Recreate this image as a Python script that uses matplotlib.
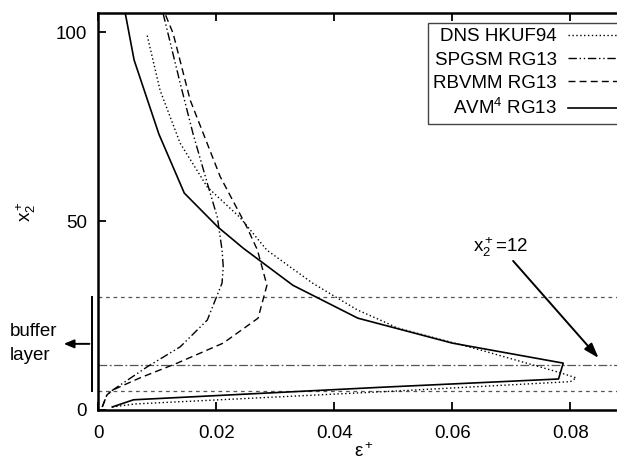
import matplotlib.pyplot as plt

plt.rcParams['font.family'] = ['Liberation Sans', 'DejaVu Sans']
plt.rcParams['mathtext.fontset'] = 'custom'
plt.rcParams['mathtext.rm'] = 'Liberation Sans'
plt.rcParams['mathtext.it'] = 'Liberation Sans'

# DNS HKUF94 (dotted)
dns_x = [0.0024, 0.0063, 0.0478, 0.080, 0.081, 0.078, 0.0647, 0.0507, 0.0478,
         0.0439, 0.0364, 0.0286, 0.024, 0.0185, 0.0139, 0.0105, 0.0083]
dns_y = [0.8, 1.6, 4.8, 7.5, 8.5, 10.0, 15.9, 21.7, 23.8,
         26.5, 33.5, 42.3, 51.0, 59.0, 70.6, 84.6, 99.2]

# SPGSM RG13 (dash-dot-dot)
spg_x = [0.0007, 0.0015, 0.0025, 0.0083, 0.0139, 0.0185, 0.021, 0.0212, 0.021,
         0.0202, 0.0185, 0.0161, 0.0139, 0.011]
spg_y = [0.8, 4.0, 5.3, 11.4, 16.7, 23.8, 33.6, 38.0, 42.3,
         51.0, 60.0, 73.0, 86.5, 105.0]

# RBVMM RG13 (dashed)
rbv_x = [0.0007, 0.0015, 0.0025, 0.0071, 0.0134, 0.0212, 0.0271, 0.0286, 0.027,
         0.0252, 0.0207, 0.0156, 0.0127, 0.0113]
rbv_y = [0.8, 4.0, 5.3, 8.5, 12.4, 17.7, 24.3, 33.0, 42.3,
         48.4, 61.7, 82.0, 99.7, 105.0]

# AVM4 RG13 (solid)
avm_x = [0.0024, 0.006, 0.0478, 0.078, 0.0788, 0.06, 0.044, 0.033,
         0.0246, 0.0203, 0.0146, 0.0103, 0.0061, 0.0046]
avm_y = [0.8, 2.7, 6.0, 8.2, 12.4, 17.7, 24.3, 33.0,
         42.8, 48.4, 57.4, 73.0, 92.6, 105.0]

x_ticks = [0, 0.02, 0.04, 0.06, 0.08]
x_labels = ['0', '0.02', '0.04', '0.06', '0.08']
y_ticks = [0, 50, 100]

fig = plt.figure(figsize=(6.17, 4.63), dpi=100)
ax = fig.add_axes([0.159, 0.1145, 0.861, 0.857])

ax.axhline(30, color='#555555', lw=0.9, ls=(0, (3, 3)))
ax.axhline(5, color='#555555', lw=0.9, ls=(0, (3, 3)))
ax.axhline(12, color='#555555', lw=0.9, ls=(0, (7, 2, 1.5, 2)))

ax.plot(dns_x, dns_y, color='k', lw=1.0, ls=(0, (1, 1.8)), label='DNS HKUF94')
ax.plot(spg_x, spg_y, color='k', lw=1.0, ls=(0, (6, 2, 1, 2, 1, 2)), label='SPGSM RG13')
ax.plot(rbv_x, rbv_y, color='k', lw=1.0, ls=(0, (5, 3)), label='RBVMM RG13')
ax.plot(avm_x, avm_y, color='k', lw=1.2, label='AVM$^4$ RG13')

ax.set_xlim(0, 0.09)
ax.set_ylim(0, 105)
ax.set_xticks(x_ticks)
ax.set_xticklabels(x_labels)
ax.set_yticks(y_ticks)
ax.tick_params(direction='in', length=6, width=1.3, labelsize=13.5, top=True)
ax.tick_params(axis='x', pad=11)
ax.tick_params(axis='y', pad=8)
for s in ax.spines.values():
    s.set_linewidth(1.8)

ax.set_xlabel('ε$^+$', fontsize=13.5, labelpad=0)
ax.set_ylabel(r'x$_2^+$', fontsize=13.5, labelpad=13)

leg = ax.legend(loc='upper right', bbox_to_anchor=(1.012, 1.0), markerfirst=False,
                fontsize=13.5, handlelength=2.8, labelspacing=0.33, borderpad=0.3,
                fancybox=False, edgecolor='#444444', framealpha=1, handletextpad=0.6)
leg.get_frame().set_linewidth(1.0)

ax.annotate('', xy=(0.0851, 13.2), xytext=(0.070, 40),
            arrowprops=dict(arrowstyle='-|>,head_length=0.9,head_width=0.3', color='k', lw=1.4))
ax.text(0.0682, 43.2, r'x$_2^+$=12', fontsize=13.5, ha='center', va='center')

# buffer layer bracket
ax.plot([-0.001, -0.001], [5, 30], color='k', lw=1.4, clip_on=False)
ax.annotate('', xy=(-0.0063, 17.5), xytext=(-0.001, 17.5),
            arrowprops=dict(arrowstyle='-|>,head_length=0.6,head_width=0.25', color='k', lw=1.4),
            annotation_clip=False)
fig.text(10 / 617, 1 - 332 / 463, 'buffer', fontsize=13.5, ha='left', va='center')
fig.text(10 / 617, 1 - 355 / 463, 'layer', fontsize=13.5, ha='left', va='center')

fig.savefig('out.png', dpi=100)
